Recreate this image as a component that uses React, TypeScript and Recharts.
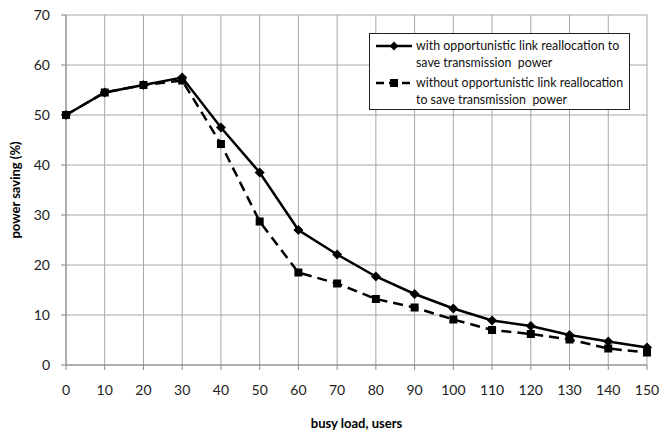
import React from 'react';
import { LineChart, Line, XAxis, YAxis, CartesianGrid, Label } from 'recharts';

const loads = [0, 10, 20, 30, 40, 50, 60, 70, 80, 90, 100, 110, 120, 130, 140, 150];
const withRealloc = [50, 54.5, 56, 57.5, 47.5, 38.5, 27, 22.1, 17.7, 14.2, 11.3, 8.9, 7.8, 6.0, 4.7, 3.5];
const withoutRealloc = [50, 54.5, 56, 56.9, 44.2, 28.7, 18.5, 16.3, 13.2, 11.5, 9.1, 7.0, 6.2, 5.1, 3.3, 2.5];
const xTicks = [0, 10, 20, 30, 40, 50, 60, 70, 80, 90, 100, 110, 120, 130, 140, 150];
const yTicks = [0, 10, 20, 30, 40, 50, 60, 70];
const seriesNames = [
  ['with opportunistic link reallocation to', 'save transmission  power'],
  ['without opportunistic link reallocation', 'to save transmission  power'],
];

const data = loads.map((x, i) => ({ x, a: withRealloc[i], b: withoutRealloc[i] }));

const FONT = 'Lato, "Open Sans", sans-serif';

const Diamond = (props: any) => {
  const { cx, cy } = props;
  if (cx == null || cy == null) return null;
  const r = 5;
  return <path d={`M${cx},${cy - r}L${cx + r},${cy}L${cx},${cy + r}L${cx - r},${cy}Z`} fill="#000" />;
};

const Square = (props: any) => {
  const { cx, cy } = props;
  if (cx == null || cy == null) return null;
  const r = 4;
  return <rect x={cx - r} y={cy - r} width={2 * r} height={2 * r} fill="#000" />;
};

const LegendBox = () => (
  <div
    style={{
      position: 'absolute',
      left: 369,
      top: 33,
      border: '1px solid #222',
      background: '#fff',
      fontFamily: FONT,
      fontSize: 12.4,
      lineHeight: '17px',
      padding: '3px 4px 3px 4px',
      boxSizing: 'border-box',
      width: 261,
      height: 77,
      color: '#111',
      whiteSpace: 'pre',
    }}
  >
    <div style={{ display: 'flex', alignItems: 'flex-start' }}>
      <svg width={40} height={17} style={{ flex: 'none' }}>
        <line x1={2} y1={9} x2={38} y2={9} stroke="#000" strokeWidth={2.5} />
        <path d="M20,4.5L24.5,9L20,13.5L15.5,9Z" fill="#000" />
      </svg>
      <div style={{ marginLeft: 2 }}>
        <div>{seriesNames[0][0]}</div>
        <div>{seriesNames[0][1]}</div>
      </div>
    </div>
    <div style={{ display: 'flex', alignItems: 'flex-start', marginTop: 3 }}>
      <svg width={40} height={17} style={{ flex: 'none' }}>
        <line x1={2} y1={9} x2={38} y2={9} stroke="#000" strokeWidth={2.5} strokeDasharray="8 5" />
        <rect x={16} y={5} width={8} height={8} fill="#000" />
      </svg>
      <div style={{ marginLeft: 2 }}>
        <div>{seriesNames[1][0]}</div>
        <div>{seriesNames[1][1]}</div>
      </div>
    </div>
  </div>
);

export default function App() {
  return (
    <div style={{ position: 'absolute', left: 0, top: 0, width: 660, height: 432, background: '#fff' }}>
      <LineChart
        width={660}
        height={432}
        data={data}
        margin={{ top: 15, right: 13, bottom: 37, left: 16 }}
      >
        <CartesianGrid stroke="#a6a6a6" strokeWidth={1} />
        <XAxis
          dataKey="x"
          type="number"
          domain={[0, 150]}
          ticks={xTicks}
          interval={0}
          height={30}
          stroke="#888"
          tickLine={{ stroke: '#888' }}
          tickSize={5}
          tick={{ fill: '#222', fontSize: 14, fontFamily: FONT }}
          tickMargin={15}
        >
          <Label
            value="busy load, users"
            position="bottom"
            offset={24}
            style={{ fontFamily: FONT, fontSize: 13, fontWeight: 700, fill: '#000' }}
          />
        </XAxis>
        <YAxis
          type="number"
          domain={[0, 70]}
          ticks={yTicks}
          interval={0}
          width={50}
          stroke="#888"
          tickLine={{ stroke: '#888' }}
          tickSize={5}
          tick={{ fill: '#222', fontSize: 14, fontFamily: FONT }}
          tickMargin={11}
        >
          <Label
            value="power saving (%)"
            angle={-90}
            position="insideLeft"
            offset={-1}
            style={{ fontFamily: FONT, fontSize: 13, fontWeight: 700, fill: '#000', textAnchor: 'middle' }}
          />
        </YAxis>
        <Line
          dataKey="a"
          stroke="#000"
          strokeWidth={2.5}
          dot={<Diamond />}
          activeDot={false}
          isAnimationActive={false}
        />
        <Line
          dataKey="b"
          stroke="#000"
          strokeWidth={2.5}
          strokeDasharray="10 6"
          dot={<Square />}
          activeDot={false}
          isAnimationActive={false}
        />
      </LineChart>
      <LegendBox />
    </div>
  );
}
